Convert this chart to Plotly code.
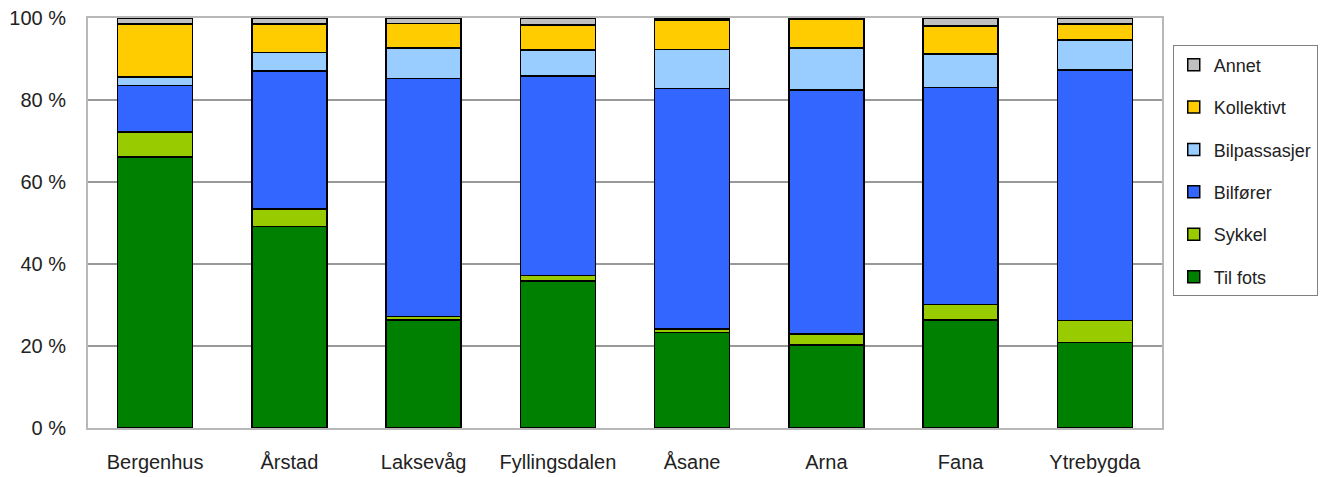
import plotly.graph_objects as go

categories = ["Bergenhus", "Årstad", "Laksevåg", "Fyllingsdalen", "Åsane", "Arna", "Fana", "Ytrebygda"]

til_fots = [66.1, 49.1, 26.3, 35.8, 23.3, 20.3, 26.3, 20.9]
sykkel = [6.1, 4.3, 0.9, 1.4, 0.8, 2.6, 3.8, 5.3]
bilforer = [11.3, 33.7, 58.1, 48.6, 58.7, 59.5, 53.0, 61.1]
bilpassasjer = [2.1, 4.5, 7.4, 6.4, 9.5, 10.3, 8.1, 7.3]
kollektivt = [12.9, 6.9, 6.0, 6.1, 7.2, 7.0, 6.9, 3.9]
annet = [1.5, 1.5, 1.3, 1.7, 0.5, 0.3, 1.9, 1.5]

y_ticks = [0, 20, 40, 60, 80, 100]
y_tick_labels = ["0 %", "20 %", "40 %", "60 %", "80 %", "100 %"]

series = [
    ("Til fots", til_fots, "#008000"),
    ("Sykkel", sykkel, "#99cc00"),
    ("Bilfører", bilforer, "#3366ff"),
    ("Bilpassasjer", bilpassasjer, "#99ccff"),
    ("Kollektivt", kollektivt, "#ffcc00"),
    ("Annet", annet, "#c0c0c0"),
]

FONT = "Liberation Sans, Arial, sans-serif"

fig = go.Figure()
for i, (name, vals, col) in enumerate(series):
    fig.add_trace(go.Bar(
        x=categories, y=vals, name=name, legendgroup=name,
        legendrank=len(series) - i,
        marker=dict(color=col, line=dict(color="#000000", width=1.5)),
    ))

fig.add_shape(type="line", xref="paper", yref="y", x0=0, x1=1, y0=80, y1=80,
              line=dict(color="#000000", width=1.5), layer="below")

fig.update_layout(
    width=1315, height=469,
    barmode="stack", bargap=0.44,
    paper_bgcolor="white", plot_bgcolor="white",
    margin=dict(l=80, r=161, t=9.5, b=49, autoexpand=False),
    font=dict(family=FONT, size=20, color="#222222"),
    legend=dict(
        traceorder="grouped", x=1.01, xanchor="left", y=0.933, yanchor="top",
        bordercolor="#808080", borderwidth=1, tracegroupgap=16,
        font=dict(family=FONT, size=18, color="#222222"),
    ),
    xaxis=dict(
        showline=True, mirror=True, linecolor="#b8b8b8", linewidth=2,
        ticks="", ticklabelstandoff=15, tickfont=dict(size=20), automargin=False,
        ticklabeloverflow="allow",
    ),
    yaxis=dict(
        range=[0, 100], tickmode="array", tickvals=y_ticks, ticktext=y_tick_labels,
        showline=True, mirror=True, linecolor="#b8b8b8", linewidth=2,
        showgrid=True, gridcolor="#999999", gridwidth=1.5,
        zeroline=False, ticks="", ticklabelstandoff=16,
        tickfont=dict(size=20), automargin=False, ticklabeloverflow="allow",
    ),
)

fig.write_html("out.html")
